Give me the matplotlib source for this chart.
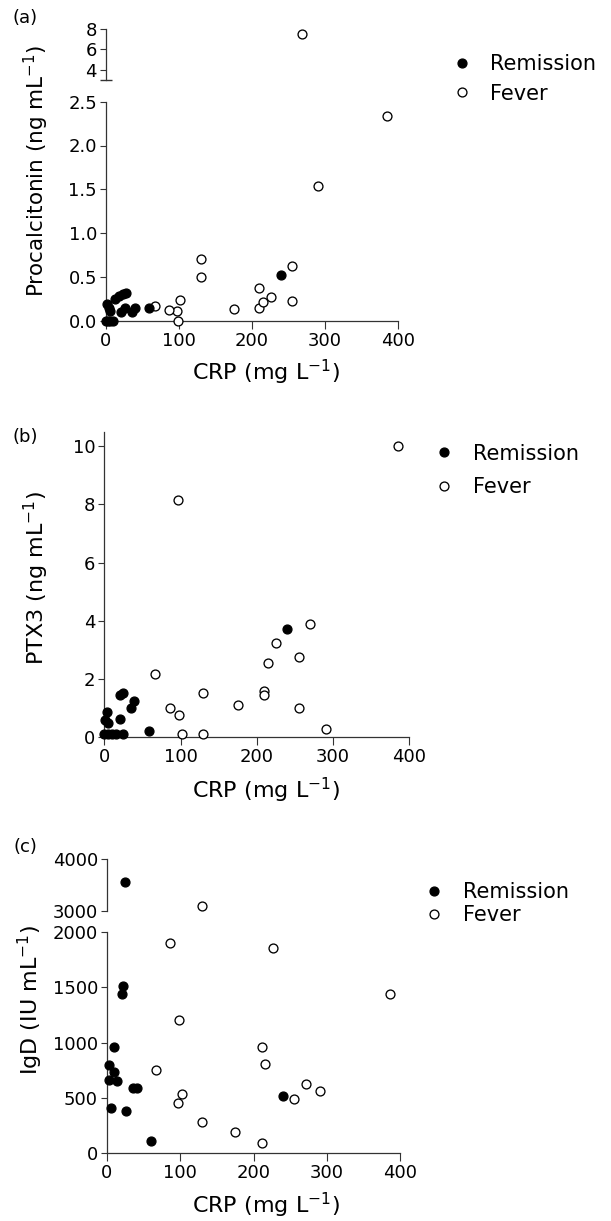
import numpy as np
import matplotlib
matplotlib.use('Agg')
import matplotlib.pyplot as plt
from matplotlib.ticker import FixedLocator, FormatStrFormatter
from matplotlib.lines import Line2D

plt.rcParams['font.family'] = ['DejaVu Sans']
plt.rcParams['mathtext.fontset'] = 'dejavusans'
plt.rcParams['mathtext.default'] = 'regular'

# ---------------- data ----------------
# (a) Procalcitonin vs CRP
a_rem_x = [0, 3, 6, 10, 2, 4, 5, 12, 18, 23, 27, 21, 26, 35, 40, 59, 240]
a_rem_y = [0, 0, 0, 0, 0.19, 0.15, 0.11, 0.25, 0.28, 0.31, 0.32, 0.10, 0.14, 0.10, 0.15, 0.15, 0.52]
a_fev_x = [269, 385, 290, 130, 130, 255, 255, 210, 210, 215, 226, 175, 102, 97, 98, 86, 67]
a_fev_y = [7.5, 2.34, 1.54, 0.71, 0.50, 0.62, 0.22, 0.37, 0.15, 0.21, 0.27, 0.13, 0.24, 0.11, 0.0, 0.12, 0.17]

# (b) PTX3 vs CRP
b_rem_x = [0, 5, 10, 15, 25, 1, 4.5, 3, 20.5, 20, 24, 34.5, 39, 59, 240]
b_rem_y = [0.1, 0.1, 0.1, 0.1, 0.1, 0.6, 0.5, 0.88, 0.62, 1.45, 1.53, 1.0, 1.26, 0.21, 3.71]
b_fev_x = [385, 97, 66, 270, 225, 215, 255, 210, 210, 255, 291, 175, 130, 130, 86, 98, 102]
b_fev_y = [10.0, 8.15, 2.17, 3.88, 3.23, 2.54, 2.77, 1.59, 1.44, 1.02, 0.29, 1.11, 1.53, 0.10, 1.02, 0.75, 0.10]

# (c) IgD vs CRP
c_rem_x = [24.5, 21.4, 20.5, 10, 3.2, 9, 3.2, 14, 36, 40.5, 5, 25.5, 59.5, 240.5]
c_rem_y = [3560, 1515, 1440, 964, 798, 738, 663, 654, 587, 587, 407, 386, 111, 521]
c_fev_x = [130, 86.4, 226, 386, 98.6, 211, 215.5, 66.8, 271, 291, 255.5, 102, 97, 130, 175, 211]
c_fev_y = [3090, 1904, 1852, 1440, 1202, 964, 807, 750, 627, 560, 494, 533, 452, 280, 193, 96]

legend_labels = ['Remission', 'Fever']
x_ticks = [0, 100, 200, 300, 400]
x_label = 'CRP (mg L$^{-1}$)'

# ---------------- layout ----------------
W, H = 611, 1221
fig = plt.figure(figsize=(W / 100, H / 100), dpi=100)
SPC = '#333333'
FS_TICK = 13
FS_LEG = 15
FS_LAB = 16
MS = 6.4


def rect(l, t, r, b):
    return [l / W, 1 - b / H, (r - l) / W, (b - t) / H]


def style(ax, bottom=True):
    ax.patch.set_visible(False)
    for s in ['top', 'right']:
        ax.spines[s].set_visible(False)
    ax.spines['left'].set_color(SPC)
    ax.spines['left'].set_linewidth(0.9)
    ax.tick_params(axis='y', which='major', direction='out', length=4.3, width=0.8,
                   pad=2.2, labelsize=FS_TICK, color=SPC)
    ax.set_xlim(0, 400)
    if bottom:
        ax.spines['bottom'].set_color(SPC)
        ax.spines['bottom'].set_linewidth(0.9)
        ax.xaxis.set_major_locator(FixedLocator(x_ticks))
        ax.tick_params(axis='x', direction='out', length=5.8, width=0.8,
                       pad=2.2, labelsize=FS_TICK, color=SPC)
    else:
        ax.spines['bottom'].set_visible(False)
        ax.xaxis.set_visible(False)


def break_tick(ax, v):
    ax.yaxis.set_minor_locator(FixedLocator([v]))
    ax.tick_params(axis='y', which='minor', direction='inout', length=9, width=1.0, color=SPC)


def pts(ax, x, y, filled, lo, hi):
    x = np.asarray(x, float)
    y = np.asarray(y, float)
    m = (y >= lo) & (y <= hi)
    ax.plot(x[m], y[m], ls='none', marker='o', ms=MS, mew=0.95, mec='black',
            mfc='black' if filled else 'white', clip_on=False, zorder=3)


def legend(ax, marker_x, text_x, yc, spacing):
    handles = [Line2D([], [], ls='none', marker='o', ms=MS, mew=0.95, mec='black', mfc='black'),
               Line2D([], [], ls='none', marker='o', ms=MS, mew=0.95, mec='black', mfc='white')]
    fs_px = FS_LEG * 100 / 72
    ax.legend(handles, legend_labels, loc='center left',
              bbox_to_anchor=((marker_x - fs_px / 2) / W, 1 - yc / H),
              bbox_transform=fig.transFigure, frameon=False, fontsize=FS_LEG,
              borderpad=0, borderaxespad=0, handlelength=1.0,
              handletextpad=(text_x - marker_x - fs_px / 2) / fs_px,
              labelspacing=spacing)


# ---- panel (a) ----
axa_u = fig.add_axes(rect(106, 29, 398, 80))
axa = fig.add_axes(rect(106, 101.7, 398, 320.7))
style(axa_u, bottom=False)
style(axa)
axa_u.set_ylim(3, 8)
axa_u.yaxis.set_major_locator(FixedLocator([4, 6, 8]))
break_tick(axa_u, 3)
axa.set_ylim(0, 2.5)
axa.yaxis.set_major_locator(FixedLocator([0, 0.5, 1.0, 1.5, 2.0, 2.5]))
axa.yaxis.set_major_formatter(FormatStrFormatter('%.1f'))
break_tick(axa, 2.5)
for ax, lo, hi in [(axa_u, 3, 8), (axa, 0, 2.5)]:
    pts(ax, a_fev_x, a_fev_y, False, lo, hi)
    pts(ax, a_rem_x, a_rem_y, True, lo, hi)
legend(axa, 462, 490, 78.7, 0.47)

# ---- panel (b) ----
axb = fig.add_axes(rect(104.3, 431.7, 409.3, 737.3))
style(axb)
axb.set_ylim(0, 10.5)
axb.yaxis.set_major_locator(FixedLocator([0, 2, 4, 6, 8, 10]))
pts(axb, b_fev_x, b_fev_y, False, 0, 10.5)
pts(axb, b_rem_x, b_rem_y, True, 0, 10.5)
legend(axb, 444, 473, 470.3, 0.63)

# ---- panel (c) ----
axc_u = fig.add_axes(rect(107, 859.3, 400.3, 910.7))
axc = fig.add_axes(rect(107, 932, 400.3, 1153.3))
style(axc_u, bottom=False)
style(axc)
axc_u.set_ylim(3000, 4000)
axc_u.yaxis.set_major_locator(FixedLocator([3000, 4000]))
break_tick(axc_u, 3000)
axc.set_ylim(0, 2000)
axc.yaxis.set_major_locator(FixedLocator([0, 500, 1000, 1500, 2000]))
break_tick(axc, 2000)
for ax, lo, hi in [(axc_u, 3000, 4000), (axc, 0, 2000)]:
    pts(ax, c_fev_x, c_fev_y, False, lo, hi)
    pts(ax, c_rem_x, c_rem_y, True, lo, hi)
legend(axc, 434, 463, 903.7, 0.15)

# ---- texts ----
for yb in [380, 798.3, 1213.3]:
    fig.text(266 / W, 1 - yb / H, x_label, ha='center', va='baseline', fontsize=FS_LAB)

fig.text(36 / W, 1 - 171 / H, 'Procalcitonin (ng mL$^{-1}$)', rotation=90,
         ha='center', va='center', fontsize=15.5)
fig.text(36 / W, 1 - 578 / H, 'PTX3 (ng mL$^{-1}$)', rotation=90,
         ha='center', va='center', fontsize=FS_LAB)
fig.text(30 / W, 1 - 1000 / H, 'IgD (IU mL$^{-1}$)', rotation=90,
         ha='center', va='center', fontsize=FS_LAB)

for lab, yc in [('(a)', 18), ('(b)', 437.5), ('(c)', 847.5)]:
    fig.text(25 / W, 1 - yc / H, lab, ha='center', va='center', fontsize=FS_TICK)

fig.savefig('out.png', dpi=100)
